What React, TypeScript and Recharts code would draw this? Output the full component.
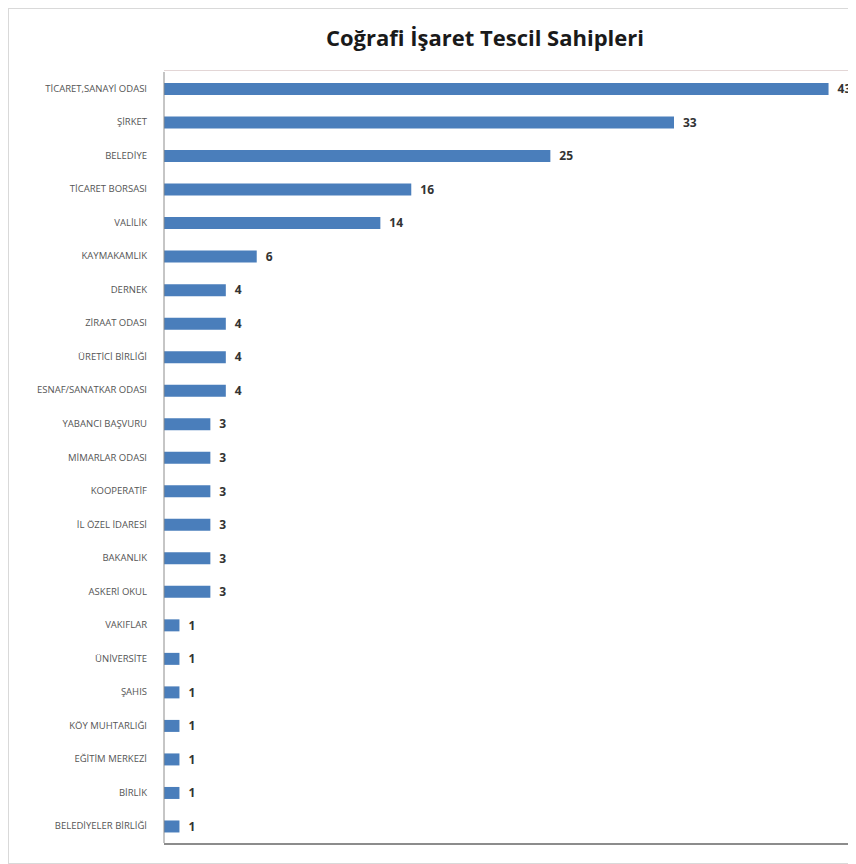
import { BarChart, Bar, XAxis, YAxis, LabelList } from 'recharts';

const owners = [
  'TİCARET,SANAYİ ODASI',
  'ŞİRKET',
  'BELEDİYE',
  'TİCARET BORSASI',
  'VALİLİK',
  'KAYMAKAMLIK',
  'DERNEK',
  'ZİRAAT ODASI',
  'ÜRETİCİ BİRLİĞİ',
  'ESNAF/SANATKAR ODASI',
  'YABANCI BAŞVURU',
  'MİMARLAR ODASI',
  'KOOPERATİF',
  'İL ÖZEL İDARESİ',
  'BAKANLIK',
  'ASKERİ OKUL',
  'VAKIFLAR',
  'ÜNİVERSİTE',
  'ŞAHIS',
  'KÖY MUHTARLIĞI',
  'EĞİTİM MERKEZİ',
  'BİRLİK',
  'BELEDİYELER BİRLİĞİ',
];

const counts = [43, 33, 25, 16, 14, 6, 4, 4, 4, 4, 3, 3, 3, 3, 3, 3, 1, 1, 1, 1, 1, 1, 1];

const data = owners.map((name, i) => ({ name, count: counts[i] }));

const BAR_COLOR = '#4a7ebb';
const FONT = '"Open Sans", sans-serif';

// plain tick so long names stay on one line
function OwnerTick({ x, y, payload }: any) {
  return (
    <text
      x={x - 9}
      y={y}
      dy={3}
      textAnchor="end"
      fontSize={9.5}
      fill="#555"
      fontFamily={FONT}
    >
      {payload.value}
    </text>
  );
}

export default function App() {
  return (
    <div
      style={{
        position: 'relative',
        width: 846,
        height: 854,
        border: '1px solid #d9d9d9',
        background: '#fff',
        fontFamily: FONT,
      }}
    >
      <div
        style={{
          position: 'absolute',
          top: 13,
          left: 0,
          width: 952,
          textAlign: 'center',
          fontSize: 22,
          fontWeight: 700,
          color: '#1a1a1a',
        }}
      >
        Coğrafi İşaret Tescil Sahipleri
      </div>
      {/* plot frame: light top edge, darker bottom edge */}
      <div
        style={{
          position: 'absolute',
          top: 61,
          left: 155,
          right: 0,
          height: 1,
          background: '#e3d6d6',
        }}
      />
      <div
        style={{
          position: 'absolute',
          top: 834,
          left: 155,
          right: 0,
          height: 2,
          background: '#8c8c8c',
        }}
      />
      <BarChart
        width={846}
        height={854}
        data={data}
        layout="vertical"
        margin={{ top: 63, right: 11, bottom: 20, left: 0 }}
      >
        <XAxis type="number" domain={[0, 44]} hide />
        <YAxis
          type="category"
          dataKey="name"
          width={155}
          interval={0}
          tickLine={false}
          axisLine={{ stroke: '#8c8c8c' }}
          tick={<OwnerTick />}
        />
        <Bar dataKey="count" fill={BAR_COLOR} barSize={12} isAnimationActive={false}>
          <LabelList
            dataKey="count"
            position="right"
            offset={9}
            style={{ fontSize: 12, fontWeight: 700, fill: '#333', fontFamily: FONT }}
          />
        </Bar>
      </BarChart>
    </div>
  );
}
